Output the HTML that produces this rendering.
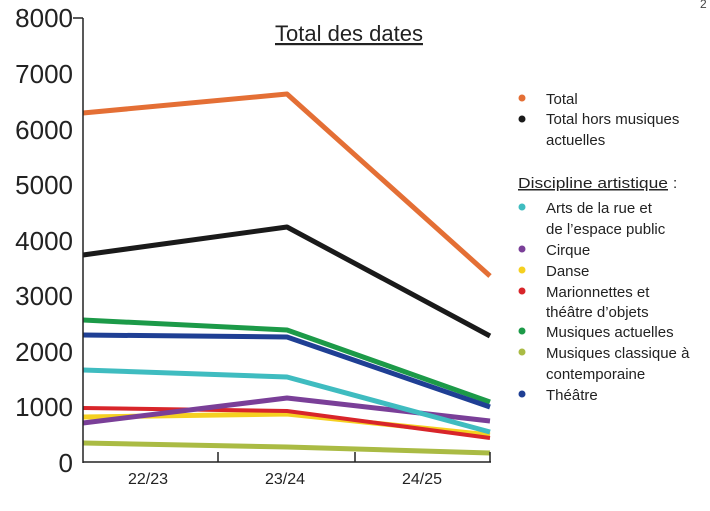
<!DOCTYPE html>
<html><head><meta charset="utf-8"><style>
body{margin:0;background:#fff;width:710px;height:506px;overflow:hidden}
svg{font-family:"Liberation Sans",sans-serif}
</style></head><body>
<svg width="710" height="506" viewBox="0 0 710 506">
<g font-size="26" fill="#222" text-anchor="end">
<text x="73" y="27">8000</text><text x="73" y="83">7000</text><text x="73" y="139">6000</text>
<text x="73" y="194">5000</text><text x="73" y="250">4000</text><text x="73" y="305">3000</text>
<text x="73" y="361">2000</text><text x="73" y="416">1000</text><text x="73" y="472">0</text>
</g>
<text x="349" y="41" font-size="22" text-anchor="middle" fill="#222" text-decoration="underline">Total des dates</text>
<text x="700" y="8" font-size="12" fill="#444">2</text>
<g fill="none" stroke-width="5" stroke-linejoin="round">
<polyline stroke="#aabb44" points="83,443 287,447 490,453"/>
<polyline stroke="#f5d020" points="83,417 287,414 490,435"/>
<polyline stroke="#d8252a" stroke-width="4" points="83,408 287,411 490,438"/>
<polyline stroke="#7a3f98" points="83,423 287,398 490,421"/>
<polyline stroke="#3fbcc0" points="83,370 287,377 490,432"/>
<polyline stroke="#1c9a48" points="83,320 287,330 490,402"/>
<polyline stroke="#1f3f94" points="83,335 287,337 490,407"/>
<polyline stroke="#1a1a1a" points="83,255 287,227 490,336"/>
<polyline stroke="#e46f35" points="83,113 287,94 490,276"/>
</g>
<g stroke="#222" stroke-width="1.5">
<line x1="83" y1="18" x2="83" y2="463"/><line x1="83" y1="462" x2="491" y2="462"/>
<line x1="73" y1="18" x2="83" y2="18"/>
<line x1="218" y1="452" x2="218" y2="462"/><line x1="355" y1="452" x2="355" y2="462"/><line x1="490" y1="452" x2="490" y2="462"/>
</g>
<g font-size="16" fill="#222" text-anchor="middle">
<text x="148" y="484">22/23</text><text x="285" y="484">23/24</text><text x="422" y="484">24/25</text>
</g>
<g font-size="15" fill="#222">
<circle cx="522" cy="98" r="3.5" fill="#e46f35"/><text x="546" y="104">Total</text>
<circle cx="522" cy="119" r="3.5" fill="#1a1a1a"/><text x="546" y="124">Total hors musiques</text>
<text x="546" y="145">actuelles</text>
<text x="518" y="188" text-decoration="underline" textLength="150" lengthAdjust="spacingAndGlyphs">Discipline artistique</text><text x="673" y="188">:</text>
<circle cx="522" cy="207" r="3.5" fill="#3fbcc0"/><text x="546" y="213">Arts de la rue et</text>
<text x="546" y="234">de l’espace public</text>
<circle cx="522" cy="249" r="3.5" fill="#7a3f98"/><text x="546" y="255">Cirque</text>
<circle cx="522" cy="270" r="3.5" fill="#f5d020"/><text x="546" y="276">Danse</text>
<circle cx="522" cy="291" r="3.5" fill="#d8252a"/><text x="546" y="297">Marionnettes et</text>
<text x="546" y="317">théâtre d’objets</text>
<circle cx="522" cy="331" r="3.5" fill="#1c9a48"/><text x="546" y="337">Musiques actuelles</text>
<circle cx="522" cy="352" r="3.5" fill="#aabb44"/><text x="546" y="358">Musiques classique à</text>
<text x="546" y="379">contemporaine</text>
<circle cx="522" cy="394" r="3.5" fill="#1f3f94"/><text x="546" y="400">Théâtre</text>
</g>
</svg>
</body></html>
